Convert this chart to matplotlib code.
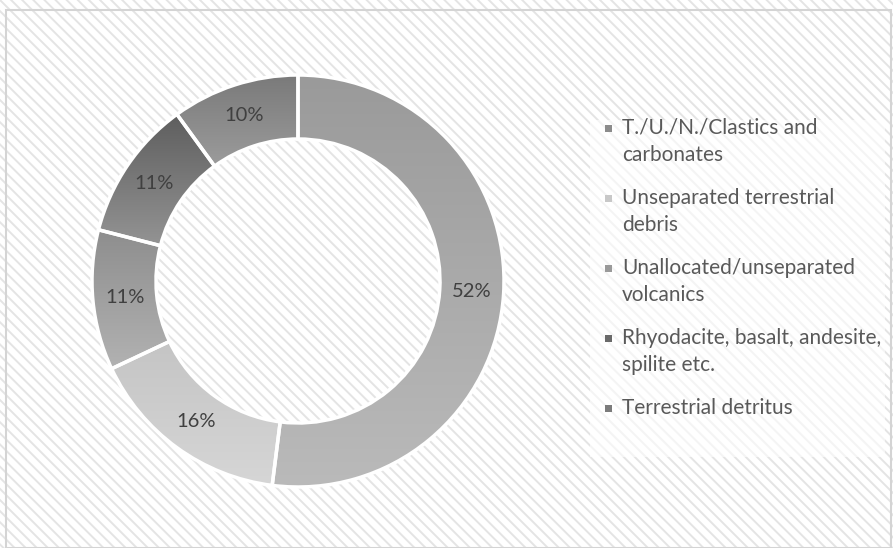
import matplotlib.pyplot as plt
import numpy as np
from matplotlib.colors import LinearSegmentedColormap
from matplotlib.patches import Rectangle

# Data
categories = [
    "T./U./N./Clastics and\ncarbonates",
    "Unseparated terrestrial\ndebris",
    "Unallocated/unseparated\nvolcanics",
    "Rhyodacite, basalt, andesite,\nspilite etc.",
    "Terrestrial detritus",
]
shares = [52, 16, 11, 11, 10]

# Gradient colours (top, bottom) per slice and legend swatches
grad_top = ["#9a9a9a", "#bdbdbd", "#8e8e8e", "#5e5e5e", "#7a7a7a"]
grad_bottom = ["#bababa", "#d6d6d6", "#b2b2b2", "#a2a2a2", "#c6c6c6"]
swatch = ["#8c8c8c", "#c8c8c8", "#9a9a9a", "#6a6a6a", "#7c7c7c"]

W, H = 893, 548
plt.rcParams['font.family'] = ['Lato', 'DejaVu Sans']
plt.rcParams['hatch.linewidth'] = 1.4

fig = plt.figure(figsize=(W / 100, H / 100), dpi=100)
fig.patch.set_facecolor("white")

# hatched chart area + border
fig.patches.append(Rectangle((0, 0), 1, 1, transform=fig.transFigure,
                             facecolor="white", edgecolor="#e4e4e4",
                             hatch="\\\\\\", linewidth=0, zorder=0))
fig.patches.append(Rectangle((6 / W, 0), (W - 8) / W, (H - 10) / H,
                             transform=fig.transFigure, facecolor="none",
                             edgecolor="#d4d4d4", linewidth=1.5, zorder=1))

# Donut
cx, cy, R = 298, 281, 206
ax = fig.add_axes([(cx - R) / W, (H - cy - R) / H, 2 * R / W, 2 * R / H])
ax.set_zorder(5)
ax.set_facecolor("none")
ring = 64 / R

wedges, _, autotexts = ax.pie(
    shares, startangle=90, counterclock=False, radius=1,
    colors=swatch, autopct=lambda p: f"{p:.0f}%", pctdistance=1 - ring / 2,
    wedgeprops=dict(width=ring, edgecolor="white", linewidth=2.5),
    textprops=dict(color="#404040", fontsize=14.5))

# gradient fill clipped to each wedge
for w, c0, c1 in zip(wedges, grad_top, grad_bottom):
    verts = w.get_patch_transform().transform(w.get_path().vertices)
    x0, y0 = verts.min(axis=0)
    x1, y1 = verts.max(axis=0)
    cmap = LinearSegmentedColormap.from_list("g", [c0, c1])
    grad = np.linspace(0, 1, 256).reshape(-1, 1)
    im = ax.imshow(grad, cmap=cmap, extent=[x0, x1, y0, y1], origin="upper",
                   aspect="auto", zorder=1.5, interpolation="bilinear")
    im.set_clip_path(w)
    w.set_facecolor("none")
    w.set_zorder(2)
for t in autotexts:
    t.set_zorder(3)

ax.set_xlim(-1, 1)
ax.set_ylim(-1, 1)
ax.set_aspect("equal")
ax.axis("off")

# Legend box
fig.patches.append(Rectangle((590 / W, (H - 457) / H), 295 / W, 337 / H,
                             transform=fig.transFigure, facecolor="white",
                             alpha=0.6, edgecolor="none", zorder=1))

y0 = 128
for i, label in enumerate(categories):
    yy = y0 + 70 * i
    fig.patches.append(Rectangle((605 / W, (H - yy - 3.5) / H), 7 / W, 7 / H,
                                 transform=fig.transFigure, facecolor=swatch[i],
                                 edgecolor="none", zorder=2))
    for j, line in enumerate(label.split("\n")):
        fig.text(622 / W, (H - yy - 27 * j) / H, line, fontsize=15,
                 color="#595959", va="center", ha="left", zorder=3)

fig.savefig("out.png", dpi=100)
